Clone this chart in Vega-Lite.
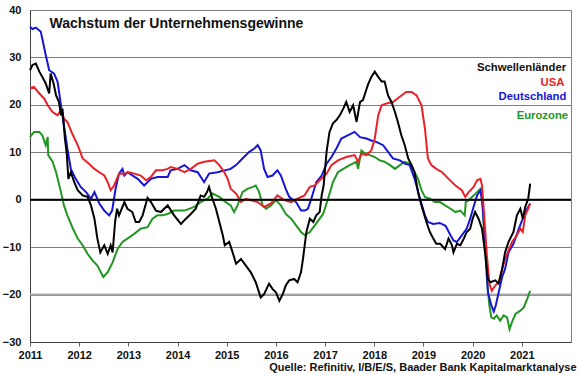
{
  "$schema": "https://vega.github.io/schema/vega-lite/v6.json",
  "width": 541,
  "height": 332,
  "autosize": {"type": "none"},
  "padding": {"left": 30, "top": 10, "right": 9, "bottom": 33},
  "background": "white",
  "config": {
    "font": "Liberation Sans",
    "view": {"stroke": "#808080", "strokeWidth": 1},
    "axis": {"labelFont": "Liberation Sans", "labelFontWeight": "bold", "labelFontSize": 11, "labelColor": "#111111", "domain": true, "domainColor": "#404040", "domainWidth": 1, "labelFlush": false, "labelOverlap": false}
  },
  "datasets": {
    "Deutschland": [
      {"t":2011.0,"v":36.5},{"t":2011.05,"v":36.0},{"t":2011.12,"v":36.3},{"t":2011.22,"v":35.4},{"t":2011.32,"v":30.5},{"t":2011.39,"v":27.3},{"t":2011.49,"v":26.6},{"t":2011.56,"v":24.9},{"t":2011.63,"v":19.9},{"t":2011.69,"v":15.7},{"t":2011.76,"v":10.8},{"t":2011.83,"v":6.5},{"t":2011.93,"v":4.4},{"t":2012.03,"v":2.7},{"t":2012.14,"v":1.6},{"t":2012.24,"v":0.2},{"t":2012.31,"v":1.6},{"t":2012.41,"v":-0.8},{"t":2012.51,"v":-2.3},{"t":2012.61,"v":-3.3},{"t":2012.67,"v":-2.3},{"t":2012.74,"v":2.3},{"t":2012.81,"v":5.5},{"t":2012.88,"v":6.5},{"t":2012.92,"v":5.1},{"t":2012.98,"v":5.8},{"t":2013.19,"v":4.4},{"t":2013.32,"v":3.0},{"t":2013.46,"v":4.4},{"t":2013.59,"v":4.8},{"t":2013.8,"v":4.8},{"t":2013.86,"v":6.2},{"t":2014.0,"v":6.5},{"t":2014.14,"v":7.3},{"t":2014.27,"v":6.2},{"t":2014.41,"v":5.8},{"t":2014.54,"v":3.7},{"t":2014.64,"v":5.5},{"t":2014.81,"v":5.8},{"t":2015.08,"v":6.5},{"t":2015.19,"v":7.3},{"t":2015.32,"v":8.7},{"t":2015.46,"v":10.1},{"t":2015.56,"v":10.8},{"t":2015.63,"v":11.5},{"t":2015.69,"v":10.4},{"t":2015.76,"v":6.5},{"t":2015.83,"v":4.8},{"t":2015.93,"v":5.1},{"t":2016.03,"v":6.2},{"t":2016.1,"v":5.1},{"t":2016.2,"v":2.3},{"t":2016.27,"v":0.6},{"t":2016.41,"v":-0.5},{"t":2016.51,"v":-2.3},{"t":2016.59,"v":-2.3},{"t":2016.65,"v":-1.9},{"t":2016.72,"v":0.2},{"t":2016.82,"v":3.7},{"t":2016.93,"v":5.1},{"t":2017.03,"v":7.6},{"t":2017.13,"v":9.0},{"t":2017.23,"v":10.8},{"t":2017.33,"v":12.9},{"t":2017.47,"v":13.6},{"t":2017.6,"v":14.3},{"t":2017.71,"v":13.2},{"t":2017.84,"v":12.9},{"t":2017.94,"v":12.5},{"t":2018.04,"v":12.2},{"t":2018.18,"v":11.5},{"t":2018.28,"v":10.1},{"t":2018.38,"v":8.7},{"t":2018.52,"v":8.3},{"t":2018.62,"v":7.6},{"t":2018.72,"v":7.3},{"t":2018.82,"v":4.4},{"t":2018.93,"v":0.2},{"t":2019.03,"v":-3.3},{"t":2019.09,"v":-4.7},{"t":2019.2,"v":-5.1},{"t":2019.33,"v":-4.9},{"t":2019.45,"v":-5.5},{"t":2019.55,"v":-7.5},{"t":2019.61,"v":-8.6},{"t":2019.68,"v":-8.9},{"t":2019.78,"v":-7.5},{"t":2019.88,"v":-6.1},{"t":2019.95,"v":-4.0},{"t":2020.02,"v":-1.5},{"t":2020.09,"v":0.9},{"t":2020.16,"v":2.0},{"t":2020.2,"v":-1.2},{"t":2020.26,"v":-9.6},{"t":2020.31,"v":-19.5},{"t":2020.38,"v":-22.3},{"t":2020.43,"v":-23.6},{"t":2020.47,"v":-22.3},{"t":2020.53,"v":-19.5},{"t":2020.6,"v":-16.3},{"t":2020.66,"v":-14.6},{"t":2020.73,"v":-11.1},{"t":2020.83,"v":-9.3},{"t":2020.94,"v":-6.1},{"t":2021.02,"v":-4.0},{"t":2021.11,"v":-1.9},{"t":2021.17,"v":-0.8}
    ],
    "USA": [
      {"t":2011.0,"v":23.5},{"t":2011.08,"v":23.8},{"t":2011.19,"v":22.4},{"t":2011.29,"v":21.3},{"t":2011.36,"v":19.9},{"t":2011.46,"v":18.5},{"t":2011.56,"v":17.8},{"t":2011.63,"v":18.9},{"t":2011.69,"v":17.1},{"t":2011.76,"v":16.4},{"t":2011.86,"v":13.9},{"t":2011.97,"v":11.5},{"t":2012.07,"v":8.7},{"t":2012.2,"v":7.6},{"t":2012.31,"v":6.5},{"t":2012.41,"v":5.8},{"t":2012.51,"v":5.1},{"t":2012.58,"v":3.7},{"t":2012.64,"v":2.0},{"t":2012.71,"v":3.0},{"t":2012.81,"v":5.5},{"t":2012.92,"v":5.5},{"t":2013.02,"v":5.8},{"t":2013.12,"v":5.5},{"t":2013.25,"v":5.1},{"t":2013.36,"v":4.1},{"t":2013.46,"v":4.8},{"t":2013.56,"v":6.2},{"t":2013.69,"v":6.2},{"t":2013.8,"v":6.5},{"t":2013.86,"v":6.9},{"t":2014.0,"v":6.5},{"t":2014.14,"v":5.8},{"t":2014.27,"v":6.5},{"t":2014.41,"v":7.6},{"t":2014.54,"v":8.0},{"t":2014.75,"v":8.3},{"t":2014.85,"v":7.3},{"t":2014.95,"v":5.8},{"t":2015.02,"v":4.4},{"t":2015.08,"v":2.3},{"t":2015.19,"v":1.3},{"t":2015.29,"v":-0.5},{"t":2015.39,"v":0.2},{"t":2015.49,"v":-0.1},{"t":2015.63,"v":-0.5},{"t":2015.76,"v":-1.5},{"t":2015.9,"v":-0.8},{"t":2016.03,"v":0.9},{"t":2016.17,"v":-0.1},{"t":2016.31,"v":-0.5},{"t":2016.44,"v":0.2},{"t":2016.58,"v":0.9},{"t":2016.69,"v":2.7},{"t":2016.79,"v":3.0},{"t":2016.89,"v":4.1},{"t":2017.03,"v":5.5},{"t":2017.13,"v":7.3},{"t":2017.26,"v":8.3},{"t":2017.43,"v":9.0},{"t":2017.6,"v":9.4},{"t":2017.67,"v":8.0},{"t":2017.74,"v":9.7},{"t":2017.84,"v":9.4},{"t":2017.94,"v":10.4},{"t":2018.01,"v":12.9},{"t":2018.08,"v":17.8},{"t":2018.15,"v":19.9},{"t":2018.25,"v":20.3},{"t":2018.38,"v":20.6},{"t":2018.52,"v":21.7},{"t":2018.65,"v":22.7},{"t":2018.76,"v":22.7},{"t":2018.86,"v":22.0},{"t":2018.96,"v":19.9},{"t":2019.03,"v":15.0},{"t":2019.09,"v":8.7},{"t":2019.16,"v":7.3},{"t":2019.26,"v":6.5},{"t":2019.38,"v":5.8},{"t":2019.51,"v":4.4},{"t":2019.65,"v":3.0},{"t":2019.78,"v":2.0},{"t":2019.85,"v":0.6},{"t":2019.92,"v":1.6},{"t":2020.02,"v":2.7},{"t":2020.09,"v":4.1},{"t":2020.16,"v":4.4},{"t":2020.19,"v":3.0},{"t":2020.24,"v":-4.0},{"t":2020.29,"v":-11.8},{"t":2020.34,"v":-17.7},{"t":2020.39,"v":-19.2},{"t":2020.46,"v":-18.1},{"t":2020.53,"v":-17.4},{"t":2020.6,"v":-14.6},{"t":2020.66,"v":-12.5},{"t":2020.73,"v":-10.7},{"t":2020.8,"v":-8.9},{"t":2020.9,"v":-7.5},{"t":2020.97,"v":-6.1},{"t":2021.02,"v":-6.8},{"t":2021.07,"v":-3.3},{"t":2021.13,"v":-1.9},{"t":2021.17,"v":-0.8}
    ],
    "Schwellenlaender": [
      {"t":2011.0,"v":27.3},{"t":2011.05,"v":28.4},{"t":2011.12,"v":28.7},{"t":2011.19,"v":27.0},{"t":2011.25,"v":25.9},{"t":2011.32,"v":24.5},{"t":2011.39,"v":22.4},{"t":2011.42,"v":26.6},{"t":2011.48,"v":24.5},{"t":2011.53,"v":22.0},{"t":2011.59,"v":20.6},{"t":2011.63,"v":17.8},{"t":2011.66,"v":19.2},{"t":2011.71,"v":12.9},{"t":2011.75,"v":9.4},{"t":2011.78,"v":4.4},{"t":2011.83,"v":5.8},{"t":2011.9,"v":3.7},{"t":2011.97,"v":2.0},{"t":2012.07,"v":0.9},{"t":2012.17,"v":0.6},{"t":2012.24,"v":-1.2},{"t":2012.31,"v":-4.0},{"t":2012.37,"v":-8.2},{"t":2012.43,"v":-11.1},{"t":2012.51,"v":-9.6},{"t":2012.58,"v":-11.4},{"t":2012.64,"v":-9.6},{"t":2012.68,"v":-11.1},{"t":2012.73,"v":-4.7},{"t":2012.77,"v":-1.9},{"t":2012.81,"v":-3.3},{"t":2012.92,"v":-0.5},{"t":2012.98,"v":-1.9},{"t":2013.08,"v":-2.6},{"t":2013.15,"v":-4.7},{"t":2013.22,"v":-4.7},{"t":2013.29,"v":-3.3},{"t":2013.39,"v":0.4},{"t":2013.46,"v":-0.5},{"t":2013.56,"v":-2.3},{"t":2013.66,"v":-2.6},{"t":2013.8,"v":-1.2},{"t":2013.93,"v":-3.3},{"t":2014.07,"v":-5.1},{"t":2014.17,"v":-4.0},{"t":2014.27,"v":-3.0},{"t":2014.37,"v":-1.9},{"t":2014.47,"v":0.9},{"t":2014.54,"v":0.6},{"t":2014.6,"v":1.6},{"t":2014.64,"v":2.7},{"t":2014.71,"v":0.2},{"t":2014.78,"v":-1.9},{"t":2014.85,"v":-4.7},{"t":2014.92,"v":-7.5},{"t":2014.96,"v":-9.6},{"t":2015.05,"v":-8.9},{"t":2015.12,"v":-11.1},{"t":2015.19,"v":-13.5},{"t":2015.29,"v":-12.5},{"t":2015.39,"v":-13.9},{"t":2015.49,"v":-15.3},{"t":2015.59,"v":-17.4},{"t":2015.69,"v":-20.6},{"t":2015.76,"v":-19.9},{"t":2015.86,"v":-17.7},{"t":2015.93,"v":-18.8},{"t":2016.0,"v":-19.5},{"t":2016.07,"v":-21.3},{"t":2016.14,"v":-19.9},{"t":2016.2,"v":-18.1},{"t":2016.27,"v":-17.0},{"t":2016.37,"v":-16.7},{"t":2016.44,"v":-17.4},{"t":2016.51,"v":-15.3},{"t":2016.55,"v":-12.5},{"t":2016.62,"v":-6.8},{"t":2016.69,"v":-4.0},{"t":2016.76,"v":-4.7},{"t":2016.82,"v":-3.3},{"t":2016.89,"v":-2.6},{"t":2016.93,"v":0.9},{"t":2016.97,"v":3.0},{"t":2017.03,"v":10.1},{"t":2017.09,"v":14.3},{"t":2017.16,"v":16.1},{"t":2017.23,"v":16.8},{"t":2017.3,"v":17.8},{"t":2017.37,"v":19.2},{"t":2017.43,"v":20.6},{"t":2017.5,"v":18.5},{"t":2017.57,"v":19.9},{"t":2017.64,"v":16.4},{"t":2017.71,"v":20.6},{"t":2017.77,"v":21.0},{"t":2017.87,"v":24.2},{"t":2017.94,"v":25.9},{"t":2018.01,"v":27.0},{"t":2018.08,"v":25.9},{"t":2018.15,"v":24.9},{"t":2018.21,"v":24.9},{"t":2018.28,"v":22.0},{"t":2018.35,"v":20.6},{"t":2018.42,"v":18.5},{"t":2018.48,"v":16.4},{"t":2018.55,"v":13.6},{"t":2018.62,"v":11.5},{"t":2018.69,"v":8.7},{"t":2018.76,"v":7.3},{"t":2018.82,"v":5.8},{"t":2018.89,"v":1.6},{"t":2018.96,"v":-1.2},{"t":2019.06,"v":-4.7},{"t":2019.13,"v":-6.8},{"t":2019.2,"v":-8.2},{"t":2019.26,"v":-9.3},{"t":2019.34,"v":-9.3},{"t":2019.44,"v":-10.4},{"t":2019.51,"v":-8.2},{"t":2019.58,"v":-9.6},{"t":2019.61,"v":-11.1},{"t":2019.68,"v":-9.3},{"t":2019.75,"v":-9.6},{"t":2019.82,"v":-8.2},{"t":2019.88,"v":-6.8},{"t":2019.95,"v":-6.1},{"t":2020.0,"v":-4.0},{"t":2020.05,"v":-2.6},{"t":2020.12,"v":-4.0},{"t":2020.19,"v":-6.1},{"t":2020.26,"v":-11.8},{"t":2020.31,"v":-16.7},{"t":2020.36,"v":-17.4},{"t":2020.46,"v":-17.0},{"t":2020.53,"v":-17.7},{"t":2020.6,"v":-14.6},{"t":2020.66,"v":-11.1},{"t":2020.73,"v":-8.9},{"t":2020.83,"v":-6.8},{"t":2020.9,"v":-3.3},{"t":2020.97,"v":-1.9},{"t":2021.02,"v":-4.0},{"t":2021.07,"v":-1.5},{"t":2021.13,"v":0.2},{"t":2021.17,"v":3.4}
    ],
    "Eurozone": [
      {"t":2011.0,"v":13.2},{"t":2011.08,"v":14.3},{"t":2011.19,"v":14.3},{"t":2011.25,"v":13.6},{"t":2011.32,"v":11.5},{"t":2011.36,"v":13.2},{"t":2011.37,"v":9.4},{"t":2011.46,"v":8.0},{"t":2011.53,"v":5.8},{"t":2011.63,"v":1.6},{"t":2011.69,"v":-1.2},{"t":2011.76,"v":-3.3},{"t":2011.86,"v":-5.8},{"t":2011.97,"v":-8.2},{"t":2012.07,"v":-9.6},{"t":2012.17,"v":-11.4},{"t":2012.27,"v":-12.8},{"t":2012.37,"v":-13.9},{"t":2012.44,"v":-15.3},{"t":2012.49,"v":-16.3},{"t":2012.58,"v":-15.3},{"t":2012.68,"v":-13.2},{"t":2012.78,"v":-10.4},{"t":2012.88,"v":-8.9},{"t":2012.98,"v":-8.2},{"t":2013.12,"v":-7.2},{"t":2013.25,"v":-6.1},{"t":2013.39,"v":-5.8},{"t":2013.49,"v":-4.0},{"t":2013.59,"v":-3.3},{"t":2013.69,"v":-3.3},{"t":2013.8,"v":-3.0},{"t":2013.93,"v":-2.3},{"t":2014.14,"v":-2.3},{"t":2014.34,"v":-1.5},{"t":2014.47,"v":-0.5},{"t":2014.61,"v":0.2},{"t":2014.71,"v":1.3},{"t":2014.85,"v":0.6},{"t":2014.98,"v":-0.5},{"t":2015.08,"v":-1.2},{"t":2015.15,"v":-2.6},{"t":2015.22,"v":-1.2},{"t":2015.32,"v":1.6},{"t":2015.42,"v":2.3},{"t":2015.53,"v":2.7},{"t":2015.59,"v":3.0},{"t":2015.66,"v":1.6},{"t":2015.73,"v":-1.2},{"t":2015.8,"v":-1.9},{"t":2015.9,"v":-1.2},{"t":2016.0,"v":-0.1},{"t":2016.1,"v":-1.2},{"t":2016.2,"v":-3.0},{"t":2016.31,"v":-4.0},{"t":2016.41,"v":-5.4},{"t":2016.51,"v":-6.8},{"t":2016.59,"v":-7.5},{"t":2016.69,"v":-6.8},{"t":2016.79,"v":-5.4},{"t":2016.89,"v":-4.0},{"t":2016.96,"v":-3.0},{"t":2017.06,"v":0.2},{"t":2017.16,"v":3.7},{"t":2017.26,"v":5.8},{"t":2017.37,"v":6.5},{"t":2017.5,"v":7.3},{"t":2017.64,"v":8.0},{"t":2017.67,"v":6.5},{"t":2017.74,"v":10.4},{"t":2017.81,"v":9.7},{"t":2017.91,"v":9.4},{"t":2018.01,"v":9.0},{"t":2018.11,"v":8.3},{"t":2018.21,"v":8.0},{"t":2018.32,"v":7.3},{"t":2018.42,"v":6.5},{"t":2018.52,"v":7.3},{"t":2018.62,"v":8.0},{"t":2018.72,"v":7.6},{"t":2018.82,"v":5.8},{"t":2018.89,"v":4.4},{"t":2018.96,"v":2.0},{"t":2019.03,"v":0.6},{"t":2019.13,"v":0.2},{"t":2019.23,"v":-0.5},{"t":2019.34,"v":-0.5},{"t":2019.44,"v":-1.2},{"t":2019.55,"v":-1.9},{"t":2019.65,"v":-2.6},{"t":2019.75,"v":-2.3},{"t":2019.84,"v":-3.3},{"t":2019.86,"v":-0.5},{"t":2019.92,"v":-0.1},{"t":2020.02,"v":0.9},{"t":2020.09,"v":1.6},{"t":2020.16,"v":2.3},{"t":2020.19,"v":1.6},{"t":2020.24,"v":-8.2},{"t":2020.29,"v":-16.7},{"t":2020.34,"v":-22.3},{"t":2020.38,"v":-24.8},{"t":2020.43,"v":-25.1},{"t":2020.49,"v":-24.4},{"t":2020.56,"v":-25.5},{"t":2020.63,"v":-24.4},{"t":2020.7,"v":-24.8},{"t":2020.75,"v":-27.3},{"t":2020.8,"v":-25.8},{"t":2020.87,"v":-24.1},{"t":2020.97,"v":-23.4},{"t":2021.04,"v":-22.7},{"t":2021.11,"v":-20.9},{"t":2021.17,"v":-19.2}
    ]
  },
  "layer": [
    {
      "data": {"values": [{}]},
      "mark": {"type": "rule", "color": "#ababab", "strokeWidth": 2},
      "encoding": {
        "y": {"datum": -20, "type": "quantitative", "scale": {"domain": [-30, 40], "nice": false, "zero": false},
          "axis": {"values": [-30, -20, -10, 0, 10, 20, 30, 40], "grid": true, "gridColor": "#7f7f7f", "gridWidth": 1, "tickSize": 0, "labelPadding": 9, "title": null}}
      }
    },
    {
      "data": {"name": "Eurozone"},
      "mark": {"type": "line", "color": "#229622", "strokeWidth": 2},
      "encoding": {
        "x": {"field": "t", "type": "quantitative", "scale": {"domain": [2011, 2022], "nice": false, "zero": false},
          "axis": {"values": [2011, 2012, 2013, 2014, 2015, 2016, 2017, 2018, 2019, 2020, 2021], "format": "d", "grid": false, "tickSize": 4, "tickColor": "#606060", "labelPadding": 3,
            "title": "Quelle: Refinitiv, I/B/E/S, Baader Bank Kapitalmarktanalyse", "titleFont": "Liberation Sans", "titleFontSize": 11, "titleFontWeight": "bold", "titleColor": "#111111", "titleAnchor": "end", "titleAlign": "right", "titleX": 546, "titleY": 28, "titleBaseline": "alphabetic"}},
        "y": {"field": "v", "type": "quantitative"}
      }
    },
    {
      "data": {"name": "Deutschland"},
      "mark": {"type": "line", "color": "#1616d6", "strokeWidth": 2},
      "encoding": {"x": {"field": "t", "type": "quantitative"}, "y": {"field": "v", "type": "quantitative"}}
    },
    {
      "data": {"name": "USA"},
      "mark": {"type": "line", "color": "#ea2228", "strokeWidth": 2},
      "encoding": {"x": {"field": "t", "type": "quantitative"}, "y": {"field": "v", "type": "quantitative"}}
    },
    {
      "data": {"name": "Schwellenlaender"},
      "mark": {"type": "line", "color": "#000000", "strokeWidth": 2},
      "encoding": {"x": {"field": "t", "type": "quantitative"}, "y": {"field": "v", "type": "quantitative"}}
    },
    {
      "data": {"values": [{}]},
      "mark": {"type": "rule", "color": "#000000", "strokeWidth": 2},
      "encoding": {"y": {"datum": 0, "type": "quantitative"}}
    },
    {
      "data": {"values": [{}]},
      "mark": {"type": "text", "text": "Wachstum der Unternehmensgewinne", "font": "Liberation Sans", "fontSize": 14, "fontWeight": "bold", "align": "left", "baseline": "alphabetic", "color": "#111111"},
      "encoding": {"x": {"datum": 2011.397, "type": "quantitative"}, "y": {"datum": 36.2, "type": "quantitative"}}
    },
    {
      "data": {"values": [{}]},
      "mark": {"type": "text", "text": "Schwellenländer", "font": "Liberation Sans", "fontSize": 11.3, "fontWeight": "bold", "align": "right", "baseline": "middle", "color": "#111111"},
      "encoding": {"x": {"datum": 2021.9, "type": "quantitative"}, "y": {"datum": 27.8, "type": "quantitative"}}
    },
    {
      "data": {"values": [{}]},
      "mark": {"type": "text", "text": "USA", "font": "Liberation Sans", "fontSize": 11.3, "fontWeight": "bold", "align": "right", "baseline": "middle", "color": "#ea2228"},
      "encoding": {"x": {"datum": 2021.865, "type": "quantitative"}, "y": {"datum": 24.6, "type": "quantitative"}}
    },
    {
      "data": {"values": [{}]},
      "mark": {"type": "text", "text": "Deutschland", "font": "Liberation Sans", "fontSize": 11.3, "fontWeight": "bold", "align": "right", "baseline": "middle", "color": "#1616d6"},
      "encoding": {"x": {"datum": 2021.906, "type": "quantitative"}, "y": {"datum": 21.6, "type": "quantitative"}}
    },
    {
      "data": {"values": [{}]},
      "mark": {"type": "text", "text": "Eurozone", "font": "Liberation Sans", "fontSize": 11.3, "fontWeight": "bold", "align": "right", "baseline": "middle", "color": "#229622"},
      "encoding": {"x": {"datum": 2021.941, "type": "quantitative"}, "y": {"datum": 17.7, "type": "quantitative"}}
    }
  ]
}
